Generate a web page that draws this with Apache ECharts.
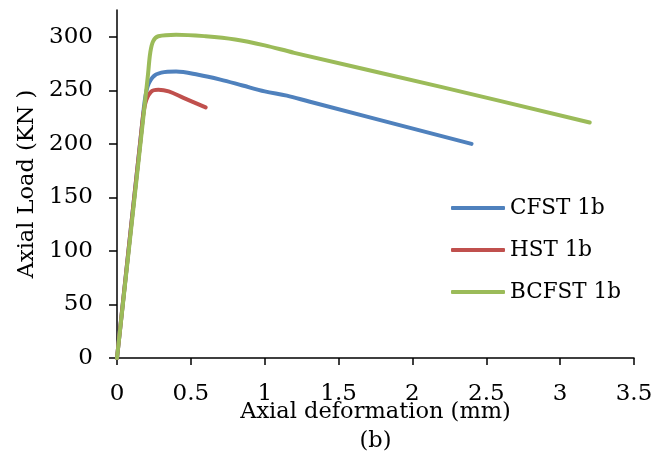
<!DOCTYPE html>
<html>
<head>
<meta charset="utf-8">
<script src="https://cdn.jsdelivr.net/npm/echarts@6/dist/echarts.min.js"></script>
<style>html,body{margin:0;padding:0;background:#fff}#c{width:670px;height:459px}</style>
</head>
<body>
<div id="c"></div>
<script>
const seriesNames = ['CFST 1b', 'HST 1b', 'BCFST 1b'];
const cfstX = [0, 0.17, 0.2, 0.24, 0.3, 0.4, 0.55, 0.7, 0.85, 1.0, 1.15, 1.3, 2.4];
const cfstY = [0, 218, 250, 262, 266.5, 267.5, 264.5, 260, 254.5, 249, 245, 239.5, 200];
const hstX = [0, 0.16, 0.19, 0.23, 0.28, 0.35, 0.45, 0.6];
const hstY = [0, 205, 237, 248.5, 250.5, 249, 243, 234];
const bcfstX = [0, 0.21, 0.225, 0.245, 0.28, 0.4, 0.6, 0.8, 1.0, 1.2, 2.2, 3.2];
const bcfstY = [0, 265, 285, 296, 300.5, 302, 300.5, 297.5, 292, 285, 253, 220];
const yTicks = [0, 50, 100, 150, 200, 250, 300];
const xTitle = 'Axial deformation (mm)';
const subTitle = '(b)';
const yTitle = 'Axial Load (KN )';

const colors = ['#4F81BD', '#C0504D', '#9BBB59'];
const font = 'DejaVu Serif';
const zip = (xs, ys) => xs.map((x, i) => [x, ys[i]]);
const dataSets = [zip(cfstX, cfstY), zip(hstX, hstY), zip(bcfstX, bcfstY)];

const chart = echarts.init(document.getElementById('c'));
chart.setOption({
  animation: false,
  backgroundColor: '#fff',
  textStyle: { fontFamily: font },
  grid: { left: 117, right: 36, top: 10, bottom: 101, containLabel: false, outerBoundsMode: 'none' },
  legend: {
    orient: 'vertical',
    left: 446,
    top: 192,
    icon: 'roundRect',
    itemWidth: 54,
    itemHeight: 4,
    itemGap: 20,
    textStyle: { fontFamily: font, fontSize: 21.5, color: '#000', lineHeight: 22 },
    data: seriesNames
  },
  xAxis: {
    type: 'value', min: 0, max: 3.5, interval: 0.5,
    name: xTitle + '\n' + subTitle,
    nameLocation: 'middle', nameGap: 40, nameMoveOverlap: false,
    nameTextStyle: { fontFamily: font, fontSize: 22.5, color: '#000', lineHeight: 29 },
    axisLine: { show: true, lineStyle: { color: '#000', width: 1.5 } },
    axisTick: { show: true, length: 7, lineStyle: { color: '#000', width: 1.5 } },
    axisLabel: { fontFamily: font, fontSize: 23, color: '#000', margin: 25 },
    splitLine: { show: false }
  },
  yAxis: {
    type: 'value', min: 0, max: 325, interval: 50,
    name: yTitle, nameLocation: 'middle', nameRotate: 90, nameGap: 78, nameMoveOverlap: false,
    nameTextStyle: { fontFamily: font, fontSize: 22.5, color: '#000' },
    axisLine: { show: true, lineStyle: { color: '#000', width: 1.5 } },
    axisTick: { show: true, length: 8, customValues: yTicks, lineStyle: { color: '#000', width: 1.5 } },
    axisLabel: { fontFamily: font, fontSize: 23, color: '#000', margin: 24, customValues: yTicks },
    splitLine: { show: false }
  },
  series: dataSets.map((d, i) => ({
    name: seriesNames[i],
    type: 'line',
    data: d,
    smooth: 0.35,
    symbol: 'none',
    color: colors[i],
    lineStyle: { width: 4, color: colors[i], cap: 'round', join: 'round' }
  }))
});
</script>
</body>
</html>
